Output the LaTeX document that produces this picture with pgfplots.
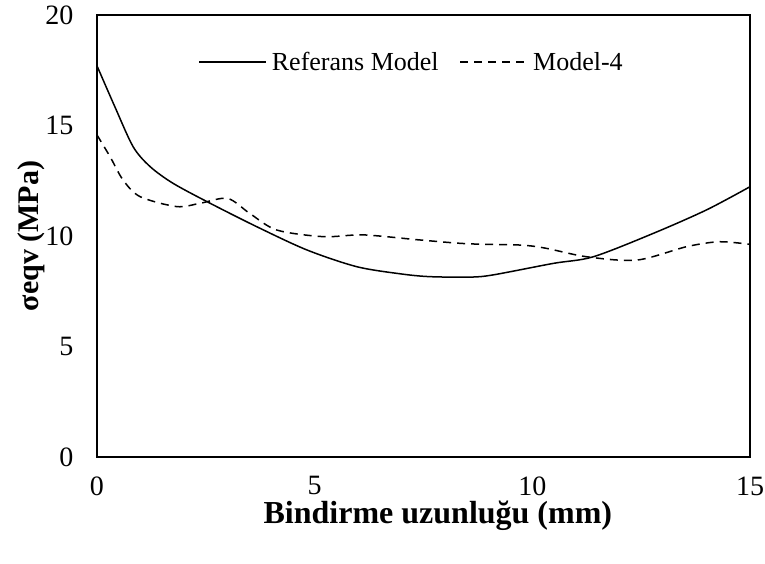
\documentclass[border=0pt]{standalone}
\usepackage{pgfplots}
\pgfplotsset{compat=1.18}
\usepackage{fontspec}
\setmainfont{Liberation Serif}
\begin{document}
\begin{tikzpicture}
\useasboundingbox (-97pt,-107pt) rectangle (668pt,457pt);
\begin{axis}[
  at={(0pt,0pt)}, anchor=south west,
  scale only axis, width=653pt, height=442pt,
  xmin=0, xmax=15, ymin=0, ymax=20,
  xtick={0,5,10,15}, ytick={0,5,10,15,20},
  xticklabels={0,5,10,15}, yticklabels={0,5,10,15,20},
  major tick length=0pt,
  axis line style={line width=1.2pt},
  /pgf/number format/assume math mode=true,
  tick label style={font=\fontsize{28}{32}\selectfont},
  xticklabel style={yshift=-16pt},
  yticklabel style={xshift=-20pt},
  xlabel={\textbf{Bindirme uzunluğu (mm)}},
  ylabel={\textbf{σeqv (MPa)}},
  xlabel style={font=\fontsize{32}{36}\selectfont, at={(axis description cs:0.522,-0.133)}, anchor=center},
  ylabel style={font=\fontsize{30}{36}\selectfont, at={(axis description cs:-0.100,0.5)}, anchor=center},
  legend style={at={(0.484,0.894)}, anchor=center, draw=none, fill=none, legend columns=2,
    font=\fontsize{26}{30}\selectfont, nodes={inner sep=5pt},
    /tikz/every even column/.append style={column sep=16pt}},
  legend image code/.code={\draw[#1] (0pt,0pt) -- (67pt,0pt);},
  legend cell align=left,
]
\addplot[black, line width=1.5pt, smooth, tension=0.5] coordinates {
(0,17.7) (0.41,15.85) (0.83,14.04) (1.22,13.14) (1.75,12.38) (2.6,11.48) (3.67,10.42) (4.82,9.37) (5.97,8.61) (7.0,8.28) (7.65,8.16) (8.57,8.14) (9.1,8.24) (10.48,8.76) (11.4,9.06) (12.78,10.12) (14.0,11.18) (15,12.23)
};
\addlegendentry{Referans Model}
\addplot[black, line width=1.5pt, dash pattern=on 8pt off 6pt, smooth, tension=0.5] coordinates {
(0,14.57) (0.3,13.59) (0.6,12.53) (0.99,11.78) (1.83,11.33) (2.37,11.48) (3.0,11.7) (3.51,11.02) (4.13,10.27) (5.2,9.97) (6.12,10.05) (7.42,9.82) (8.5,9.65) (9.72,9.59) (10.3,9.45) (11.25,9.06) (12.4,8.91) (13.55,9.52) (14.3,9.74) (15,9.62)
};
\addlegendentry{Model-4}
\end{axis}
\end{tikzpicture}
\end{document}
